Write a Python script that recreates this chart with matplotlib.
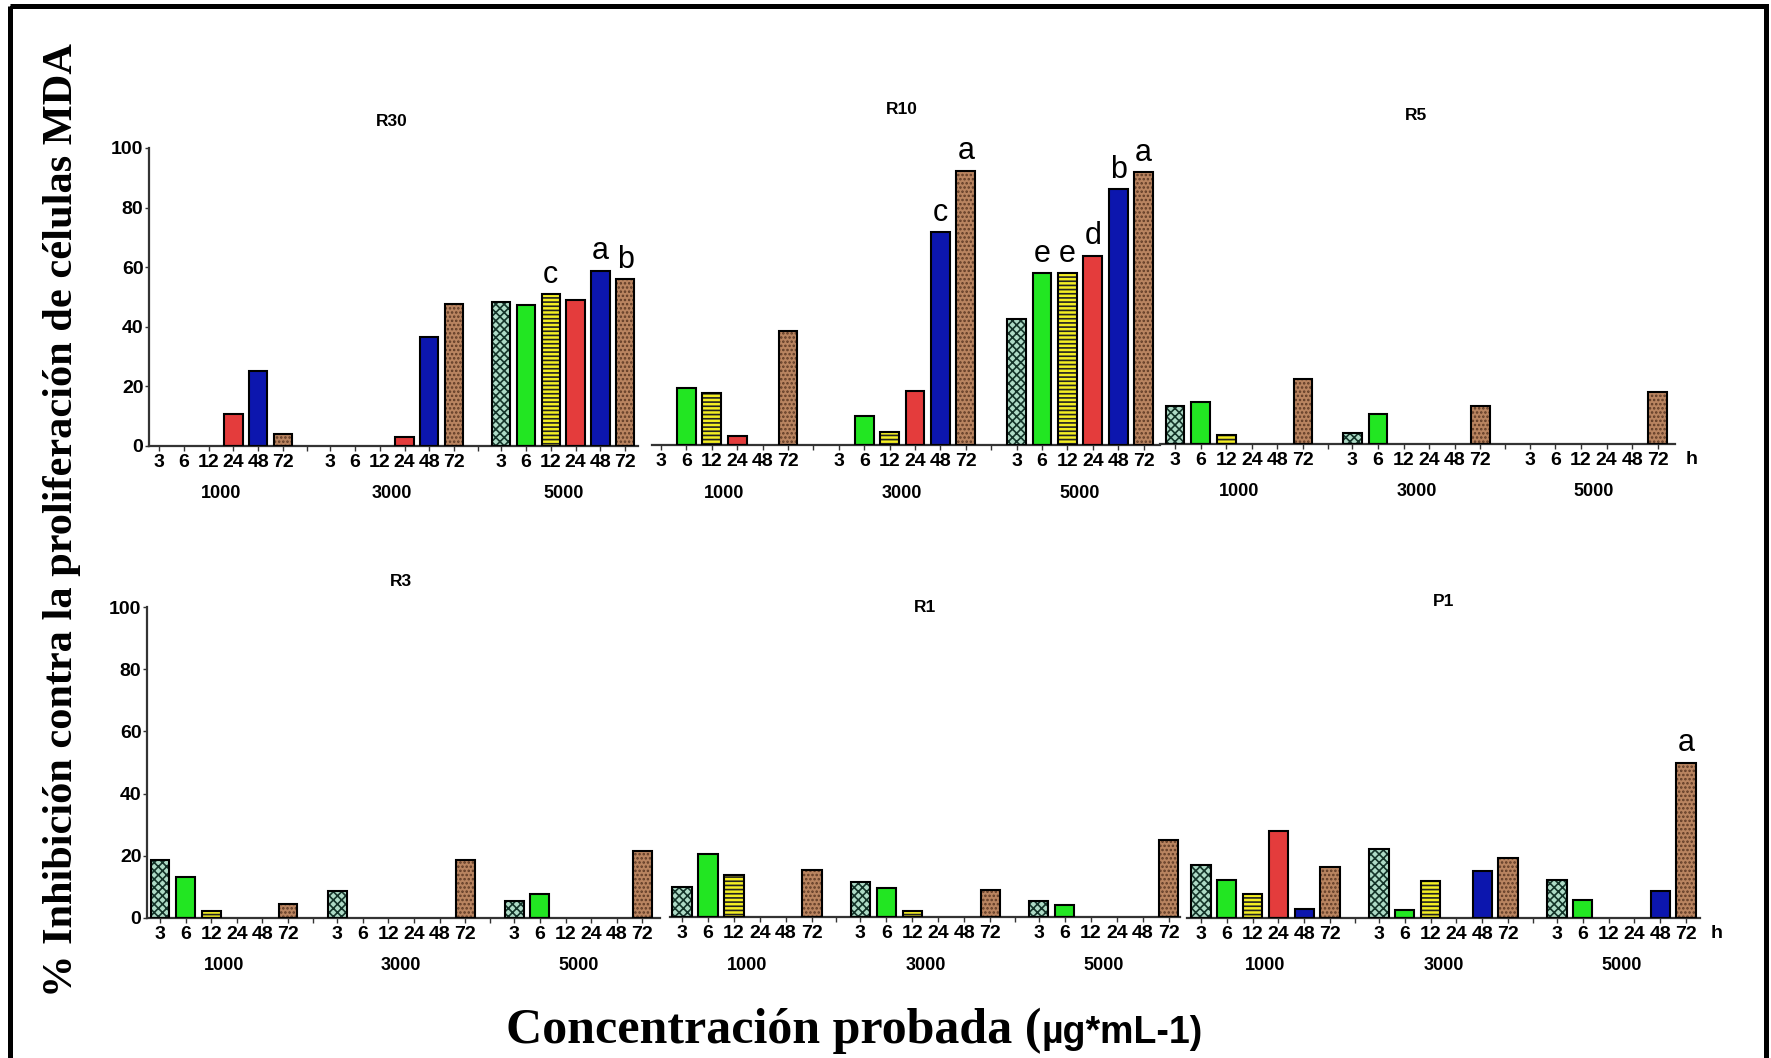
import matplotlib
matplotlib.use("Agg")
import matplotlib.pyplot as plt
from matplotlib.patches import Rectangle
from matplotlib.transforms import blended_transform_factory, offset_copy

W, H = 1771, 1058
plt.rcParams["font.family"] = ["Liberation Sans", "DejaVu Sans"]
plt.rcParams["hatch.linewidth"] = 1.2

times = ["3", "6", "12", "24", "48", "72"]
concentrations = ["1000", "3000", "5000"]

# % inhibition, order: 1000 (3..72 h), 3000 (3..72 h), 5000 (3..72 h)
r30 = [0, 0, 0, 10.7, 25.3, 4.0,
       0, 0, 0, 3.1, 36.7, 47.7,
       48.4, 47.4, 50.9, 48.9, 58.8, 56.0]
r10 = [0, 19.1, 17.4, 3.1, 0, 38.1,
       0, 9.8, 4.5, 18.2, 71.4, 92.1,
       42.3, 57.7, 57.7, 63.5, 85.9, 91.5]
r5 = [12.8, 14.1, 2.9, 0, 0, 21.9,
      3.6, 10.0, 0, 0, 0, 12.8,
      0, 0, 0, 0, 0, 17.5]
r3 = [18.5, 13.1, 2.4, 0, 0, 4.5,
      8.8, 0, 0, 0, 0, 18.5,
      5.6, 7.7, 0, 0, 0, 21.7]
r1 = [9.5, 20.4, 13.6, 0, 0, 15.0,
      11.4, 9.2, 1.8, 0, 0, 8.6,
      5.0, 3.9, 0, 0, 0, 24.7]
p1 = [16.9, 12.3, 7.8, 28.1, 3.0, 16.4,
      22.2, 2.7, 12.0, 0, 15.0, 19.3,
      12.1, 5.9, 0, 0, 8.8, 49.8]

r30_letters = [""] * 14 + ["c", "", "a", "b"]
r10_letters = [""] * 10 + ["c", "a"] + ["", "e", "e", "d", "b", "a"]
p1_letters = [""] * 17 + ["a"]
no_letters = [""] * 18

panels = [("R30", r30, r30_letters), ("R10", r10, r10_letters), ("R5", r5, no_letters),
          ("R3", r3, no_letters), ("R1", r1, no_letters), ("P1", p1, p1_letters)]

# pixel layout: left, right, first bar centre, slot, zero line, 100 line, title y, group step
layout = {
    "R30": (149, 638, 159, 24.8, 446, 148, 122, 6.9),
    "R10": (652, 1160, 661, 25.4, 445, 147, 109, 7.0),
    "R5": (1160, 1675, 1175, 25.6, 444, 146, 115, 6.93),
    "R3": (147, 660, 160, 25.6, 918, 607, 582, 6.92),
    "R1": (670, 1180, 682, 26.0, 917, 606, 607, 6.86),
    "P1": (1187, 1700, 1201, 25.8, 918, 607, 602, 6.9),
}

fills = ["#aedbc6", "#22e622", "#f3ee22", "#e43c3c", "#0c16ae", "#b98460"]
hatches = ["xxxx", "", "----", "", "", "...."]
hatch_cols = ["#143429", "#22e622", "#222222", "#e43c3c", "#0c16ae", "#5e3a25"]

fig = plt.figure(figsize=(W / 100, H / 100), dpi=100)
bg = fig.add_axes([0, 0, 1, 1])
bg.set_xlim(0, W)
bg.set_ylim(H, 0)
bg.axis("off")
bg.add_patch(Rectangle((10, 6), 1756, 1100, fill=False, lw=3.6, edgecolor="black"))

for name, vals, letters in panels:
    left, right, c0, slot, zero, top, ty, gstep = layout[name]
    ax = fig.add_axes([left / W, 1 - zero / H, (right - left) / W, (zero - top) / H])
    ax.set_xlim((left - c0) / slot, (right - c0) / slot)
    ax.set_ylim(0, 100)
    ax.patch.set_alpha(0)

    pos = [g * gstep + i for g in range(3) for i in range(6)]
    for i in range(6):
        xs = [pos[g * 6 + i] for g in range(3) if vals[g * 6 + i] > 0]
        ys = [vals[g * 6 + i] for g in range(3) if vals[g * 6 + i] > 0]
        ax.bar(xs, ys, 0.74, color=fills[i], hatch=hatches[i],
               edgecolor=hatch_cols[i], linewidth=0, zorder=2)
        ax.bar(xs, ys, 0.74, facecolor="none", edgecolor="black",
               linewidth=1.5, zorder=3)

    for x, v, lab in zip(pos, vals, letters):
        if lab:
            ax.text(x, v + 1.5, lab, ha="center", va="bottom", fontsize=22,
                    family="Liberation Sans", clip_on=False)

    ax.set_xticks(pos, labels=times * 3, fontsize=14, fontweight="bold")
    ax.set_xticks([5 + (gstep - 5) / 2, gstep + 5 + (gstep - 5) / 2], minor=True)
    ax.tick_params(axis="x", which="both", direction="out", length=3.5,
                   width=1, pad=2, colors="#333333", labelcolor="black")
    for s in ["top", "right"]:
        ax.spines[s].set_visible(False)
    ax.spines["bottom"].set_linewidth(1.6)
    ax.spines["bottom"].set_color("#333333")

    if name in ("R30", "R3"):
        ax.set_yticks([0, 20, 40, 60, 80, 100])
        ax.tick_params(axis="y", direction="out", length=3, width=1, pad=1,
                       labelsize=14, colors="#333333", labelcolor="black")
        for t in ax.get_yticklabels():
            t.set_fontweight("bold")
        ax.spines["left"].set_linewidth(1.6)
        ax.spines["left"].set_color("#333333")
    else:
        ax.spines["left"].set_visible(False)
        ax.set_yticks([])

    blend = blended_transform_factory(ax.transData, ax.transAxes)
    lab_tr = offset_copy(blend, fig=fig, y=-48, units="dots")
    for g, conc in enumerate(concentrations):
        ax.text(g * gstep + 2.5, 0, conc, transform=lab_tr, ha="center",
                va="center", fontsize=13, fontweight="bold")

    title_tr = offset_copy(blend, fig=fig, y=zero - ty, units="dots")
    ax.text(gstep + 2.5, 0, name, transform=title_tr, ha="center",
            va="center", fontsize=12.5, fontweight="bold")

    if name in ("R5", "P1"):
        ax.annotate("h", xy=(1, 0), xycoords="axes fraction", xytext=(17, -15),
                    textcoords="offset pixels", ha="center", va="center",
                    fontsize=14, fontweight="bold")

fig.text(62 / W, 1 - 520 / H, "% Inhibición contra la proliferación de células MDA",
         rotation=90, ha="center", va="center", fontsize=30.5,
         family="Liberation Serif", fontweight="bold")
fig.text(1041 / W, 1 - 1043 / H, "Concentración probada (", ha="right",
         va="baseline", fontsize=36, family="Liberation Serif", fontweight="bold")
fig.text(1041 / W, 1 - 1043 / H, "µg*mL-1)", ha="left", va="baseline",
         fontsize=27, family="Liberation Sans", fontweight="bold")

fig.savefig("out.png", dpi=100)
